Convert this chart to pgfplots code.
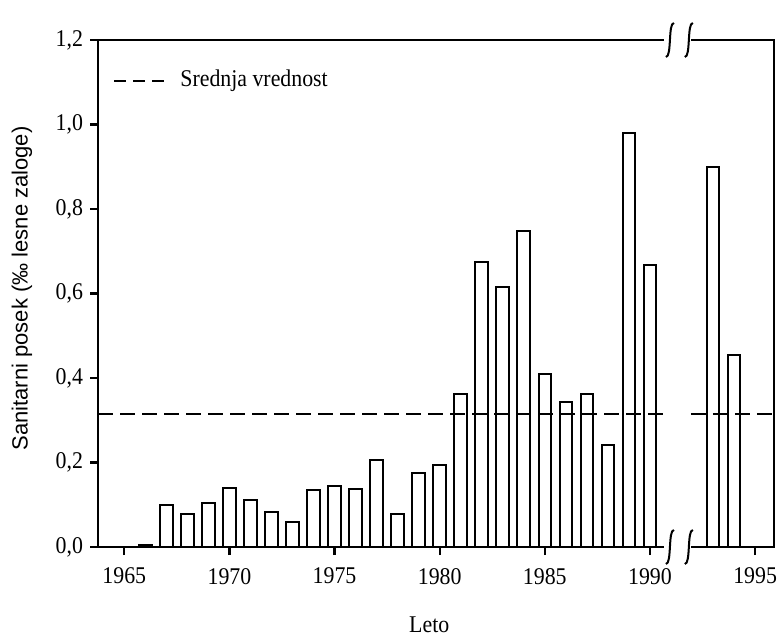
\documentclass[border=0pt]{standalone}
\usepackage{pgfplots}
\usepackage{pgfplotstable}
\pgfplotsset{compat=1.18}
\usepackage{fontspec}
\setmainfont[FakeStretch=0.91]{Liberation Serif}
\newfontfamily\labelsans{Liberation Sans}

\pgfplotstableread{
year val
1966 0.004
1967 0.100
1968 0.077
1969 0.103
1970 0.139
1971 0.112
1972 0.082
1973 0.060
1974 0.136
1975 0.145
1976 0.138
1977 0.207
1978 0.078
1979 0.175
1980 0.195
1981 0.362
1982 0.675
1983 0.615
1984 0.749
1985 0.410
1986 0.344
1987 0.363
1988 0.242
1989 0.980
1990 0.667
1993 0.900
1994 0.454
}\bars

\begin{document}
\begin{tikzpicture}
\useasboundingbox (0,0) rectangle (389.5pt,320.5pt);
\begin{axis}[
  at={(49pt,47pt)}, anchor=south west,
  scale only axis, width=338pt, height=253.5pt,
  xmin=1963.75, xmax=1995.9, ymin=0, ymax=1.2,
  clip=false,
  axis lines=left,
  axis line style={-, line width=1.1pt},
  x axis line style={draw=none},
  tick align=outside, major tick length=4pt,
  tick style={line width=1.1pt, black},
  xtick={1965,1970,1975,1980,1985,1990,1995},
  ytick={0,0.2,0.4,0.6,0.8,1.0,1.2},
  /pgf/number format/assume math mode=true,
  tick label style={font=\fontsize{12}{14}\selectfont},
  xticklabel style={/pgf/number format/1000 sep={}, yshift=-3pt},
  yticklabel style={/pgf/number format/.cd, fixed, fixed zerofill, precision=1, use comma},
  xlabel={Leto},
  xlabel style={at={(axis description cs:0.49,0)}, anchor=base, yshift=-42.5pt, font=\fontsize{12}{14}\selectfont},
  ylabel={Sanitarni posek (‰ lesne zaloge)},
  ylabel style={at={(axis description cs:-0.1124,0.51)}, anchor=center, font=\labelsans\fontsize{11}{13}\selectfont},
  legend style={draw=none, fill=none, at={(axis description cs:0.0222,0.921)}, anchor=west,
    inner sep=0pt, column sep=7.5pt, font=\fontsize{12}{14}\selectfont,
    nodes={inner sep=0pt, anchor=base west}},
  legend image code/.code={\draw[line width=1pt, dash pattern=on 6pt off 3.5pt] (0pt,0.6ex) -- (25pt,0.6ex);},
]
\addplot[ybar, bar width=0.6, fill=white, draw=black, line width=1pt, forget plot]
  table[x=year, y=val]{\bars};
\addplot[line width=1pt, dash pattern=on 7.5pt off 3.5pt, black]
  coordinates {(1963.75,0.315) (1990.67,0.315)};
\addlegendentry{Srednja vrednost}
\addplot[line width=1pt, dash pattern=on 7.5pt off 3.5pt, black, forget plot]
  coordinates {(1991.94,0.315) (1995.9,0.315)};
% broken frame
\draw[line width=1.1pt] (axis cs:1963.75,0) -- (axis cs:1990.67,0);
\draw[line width=1.1pt] (axis cs:1963.75,1.2) -- (axis cs:1990.67,1.2);
\draw[line width=1.1pt] (axis cs:1991.94,0) -- (axis cs:1995.9,0) -- (axis cs:1995.9,1.2) -- (axis cs:1991.94,1.2);
% break marks
\draw[line width=1pt, shift={(axis cs:1990.95,0)}] (2pt,8.5pt) .. controls (-1pt,8.5pt) and (1pt,-8.5pt) .. (-2pt,-8.5pt);
\draw[line width=1pt, shift={(axis cs:1991.85,0)}] (2pt,8.5pt) .. controls (-1pt,8.5pt) and (1pt,-8.5pt) .. (-2pt,-8.5pt);
\draw[line width=1pt, shift={(axis cs:1990.95,1.2)}] (2pt,8.5pt) .. controls (-1pt,8.5pt) and (1pt,-8.5pt) .. (-2pt,-8.5pt);
\draw[line width=1pt, shift={(axis cs:1991.85,1.2)}] (2pt,8.5pt) .. controls (-1pt,8.5pt) and (1pt,-8.5pt) .. (-2pt,-8.5pt);
\end{axis}
\end{tikzpicture}
\end{document}
